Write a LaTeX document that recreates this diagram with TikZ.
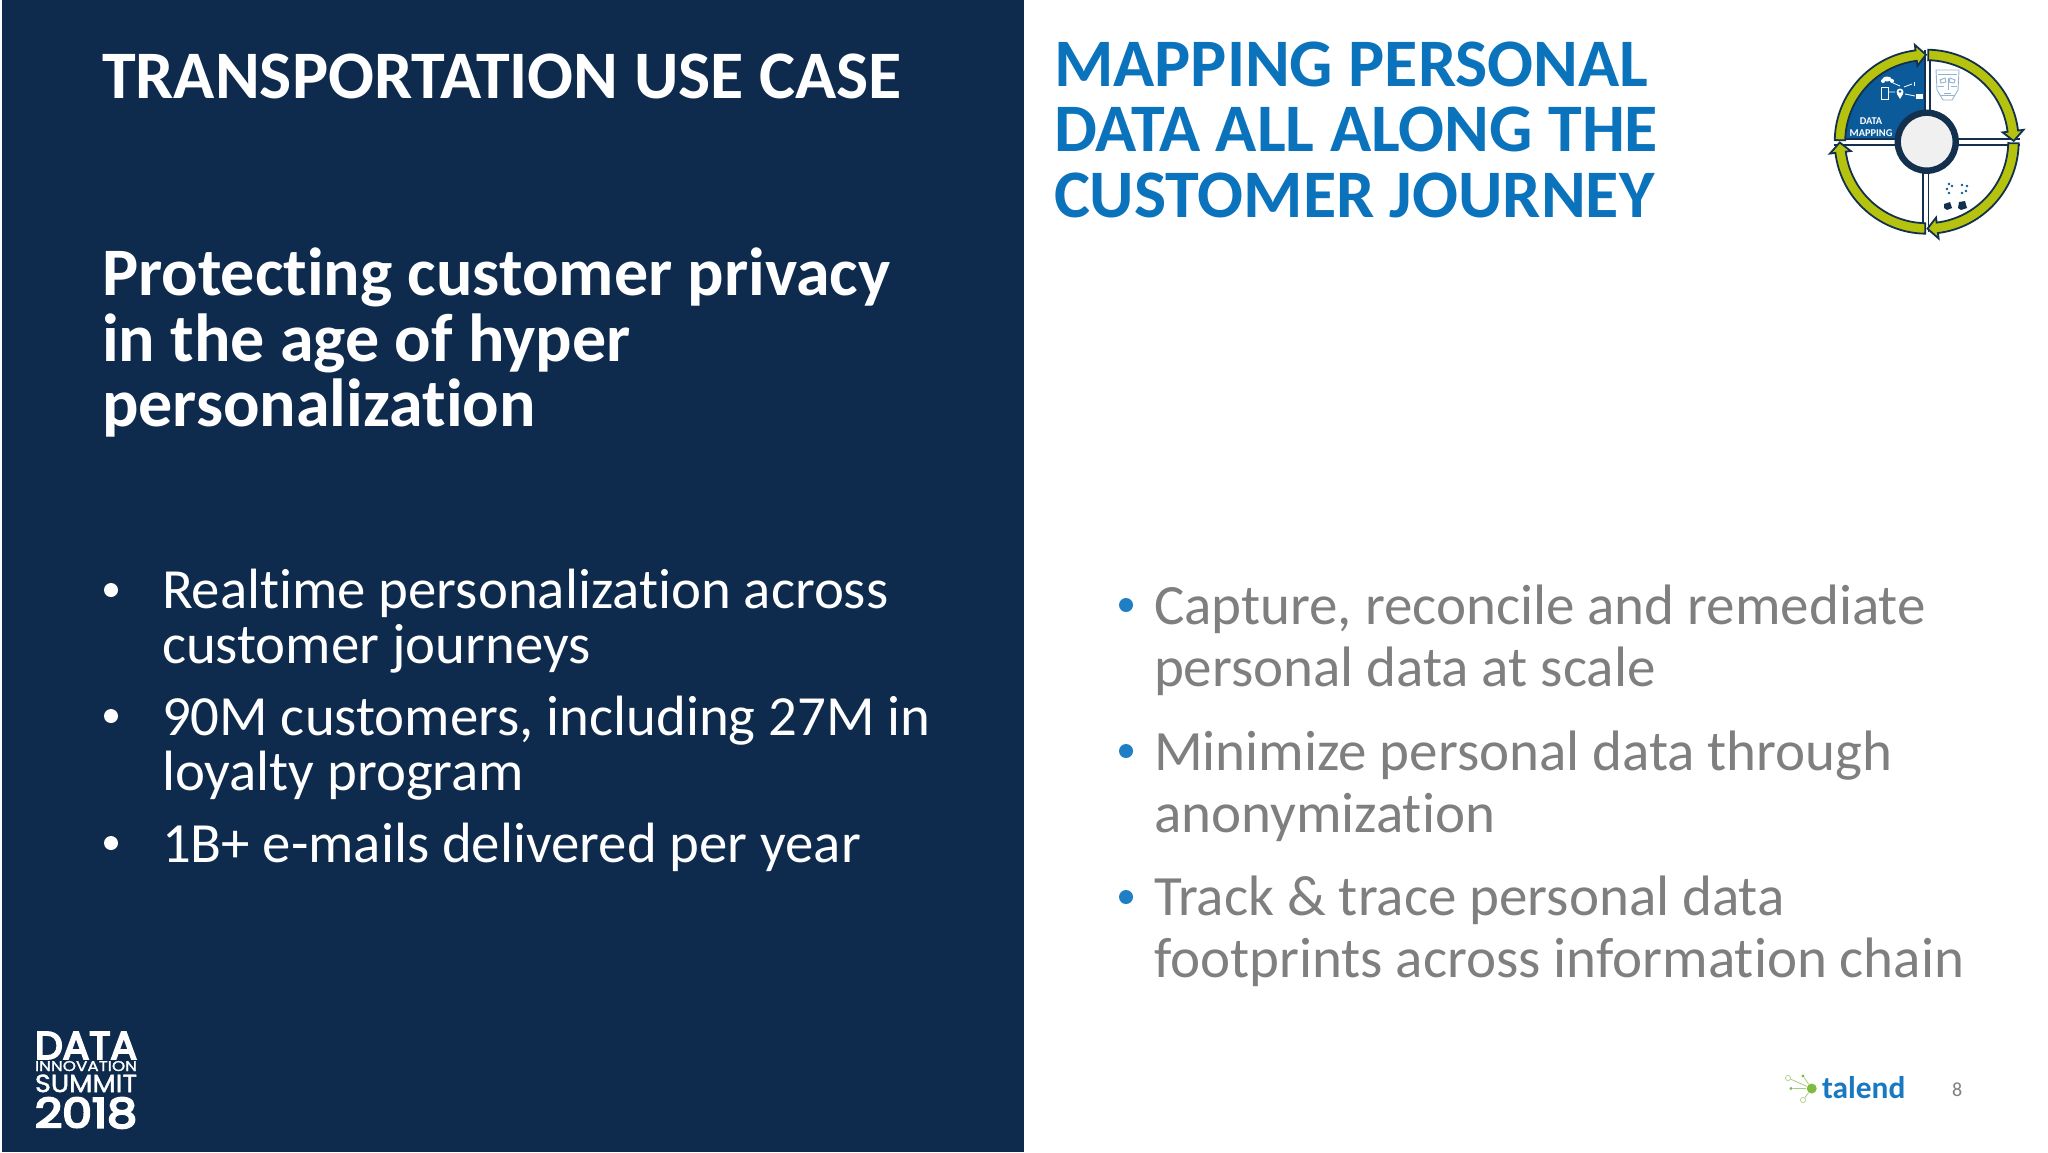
\documentclass[tikz,border=0pt]{standalone}
\usepackage{fontspec}
\setmainfont[Ligatures=CommonOff]{Carlito}
\newfontfamily\popfont[FakeBold=1.5]{Poppins}
\newfontfamily\popmid[FakeBold=5]{Poppins}
\definecolor{navy}{HTML}{0E2B4E}
\definecolor{titleblue}{HTML}{0B72BC}
\definecolor{greytxt}{HTML}{7F7F7F}
\definecolor{bulletblue}{HTML}{1F7FC4}
\definecolor{ringgreen}{HTML}{B5C30E}
\definecolor{ringdark}{HTML}{14304F}
\definecolor{quad}{HTML}{0B5A99}
\definecolor{talendblue}{HTML}{1879C2}
\definecolor{talendgreen}{HTML}{7DBB42}
\tikzset{
  x=0.5pt,y=-0.5pt,
  txt/.style={anchor=base west,inner sep=0pt,outer sep=0pt},
  heada/.style={txt,white,font=\fontsize{34}{40}\selectfont\bfseries},
  headb/.style={txt,titleblue,font=\fontsize{34}{40}\selectfont\bfseries},
  lefttxt/.style={txt,white,font=\fontsize{28.4}{34}\selectfont},
  righttxt/.style={txt,greytxt,font=\fontsize{28.5}{34}\selectfont},
  leftdot/.style={circle,fill=white,inner sep=0pt,minimum size=7pt},
  rightdot/.style={circle,fill=bulletblue,inner sep=0pt,minimum size=7pt},
  logotxt/.style={inner sep=0pt,outer sep=0pt,white,anchor=north west},
  ringarrow/.style={fill=ringgreen,draw=ringdark,line width=0.9pt,line join=miter},
  spoke/.style={talendgreen!70,line width=0.4pt},
  hub/.style={circle,fill=talendgreen,inner sep=0pt,minimum size=5pt},
  leaf/.style={circle,draw=talendgreen!60,fill=white,line width=0.4pt,inner sep=0pt,minimum size=2.6pt},
  leafb/.style={circle,fill=talendgreen,inner sep=0pt,minimum size=1.6pt},
  iconw/.style={white,line width=0.4pt},
  facel/.style={quad!45!white,line width=0.45pt},
}
\newcommand{\ringarc}[1]{%
  \begin{scope}[shift={(1926.7,141.7)},rotate=#1]
    \path[ringarrow,x=0.5pt,y=0.5pt]
      (179:92) arc[start angle=179,end angle=97,radius=92]
      -- (97:97.5) -- (90.5:87) -- (97:76.5) -- (97:81.5)
      arc[start angle=97,end angle=179,radius=81.5] -- cycle;
  \end{scope}}
\begin{document}
\begin{tikzpicture}
\useasboundingbox (0,0) rectangle (2048,1152);
\fill[white] (0,0) rectangle (2048,1152);
\fill[navy] (1.5,0) rectangle (1024,1152);
% left panel
\node[heada] (t1) at (102,98) {TRANSPORTATION USE CASE};
\node[heada] (s1) at (102,295) {Protecting customer privacy};
\node[heada] (s2) at (102,361) {in the age of hyper};
\node[heada] (s3) at (102,426) {personalization};
\node[leftdot] (b1) at (111,590) {};
\node[lefttxt] (l1) at (162,608.5) {Realtime personalization across};
\node[lefttxt] (l2) at (162,663.5) {customer journeys};
\node[leftdot] (b2) at (111,716) {};
\node[lefttxt] (l3) at (162,735.5) {90M customers, including 27M in};
\node[lefttxt] (l4) at (162,790.5) {loyalty program};
\node[leftdot] (b3) at (111,843) {};
\node[lefttxt] (l5) at (162,862.5) {1B+ e-mails delivered per year};
% summit logo
\node[logotxt] (d1) at (35,1032) {\resizebox{51pt}{13.5pt}{\popmid DATA}};
\node[logotxt] (d2) at (35,1061) {\resizebox{51pt}{5pt}{\popfont INNOVATION}};
\node[logotxt] (d3) at (35,1074.5) {\resizebox{51pt}{8.8pt}{\popfont SUMMIT}};
\node[logotxt] (d4) at (35,1097.5) {\resizebox{51pt}{15pt}{\popmid 2018}};
% right panel
\node[headb] (h1) at (1054,86) {MAPPING PERSONAL};
\node[headb] (h2) at (1054,151) {DATA ALL ALONG THE};
\node[headb] (h3) at (1054,217) {CUSTOMER JOURNEY};
\node[rightdot] (c1) at (1126,605) {};
\node[righttxt] (r1) at (1154,624) {Capture, reconcile and remediate};
\node[righttxt] (r2) at (1154,686) {personal data at scale};
\node[rightdot] (c2) at (1126,751) {};
\node[righttxt] (r3) at (1154,770) {Minimize personal data through};
\node[righttxt] (r4) at (1154,832) {anonymization};
\node[rightdot] (c3) at (1126,897) {};
\node[righttxt] (r5) at (1154,915) {Track \& trace personal data};
\node[righttxt] (r6) at (1154,977) {footprints across information chain};
% ring logo: blue quadrant
\fill[quad] (1924,139) -- (1843,139) arc[start angle=180,end angle=90,radius=81,y radius=-81] -- cycle;
% cross lines
\draw[ringdark,line width=0.7pt] (1834,139) -- (1900,139) (1834,145) -- (1900,145);
\draw[ringdark,line width=0.7pt] (1952,139) -- (2020,139) (1952,145) -- (2020,145);
\draw[ringdark,line width=0.7pt] (1925,50) -- (1925,115) (1930,50) -- (1930,115);
\draw[ringdark,line width=0.7pt] (1923,165) -- (1923,232) (1928.5,165) -- (1928.5,232);
\ringarc{0}
\ringarc{-90}
\ringarc{-180}
\ringarc{-270}
\node[circle,draw=ringdark,line width=3.2pt,fill=black!6,inner sep=0pt,minimum size=29pt] (core) at (1926.7,141.7) {};
\node[white,inner sep=0pt,font=\fontsize{5.2}{5.8}\selectfont\bfseries,align=center] (dm) at (1871,127) {DATA\\MAPPING};
% quadrant icons
\fill[white] (1887,79) ellipse (4.5 and 2.5) (1883,81) circle (2) (1892,81) circle (2);
\draw[iconw] (1881,87) rectangle (1888,99);
\fill[white] (1900,92) circle (3.5);
\fill[white] (1897,94) -- (1903,94) -- (1900,99) -- cycle;
\fill[quad] (1900,91.5) circle (1.3);
\draw[iconw] (1916,94) rectangle (1922,98);
\fill[white] (1916.5,94.5) rectangle (1921.5,97.5);
\fill[white] (1914,82) rectangle (1915,86);
\draw[iconw] (1893,83) -- (1900,86) (1904,87) -- (1912,84) (1889,92) -- (1895,92) (1905,94) -- (1915,96);
% face icon (top-right quadrant)
\draw[facel] (1936,70) -- (1959,70) -- (1958,90) -- (1952,100) -- (1943,100) -- (1937,90) -- cycle;
\draw[facel] (1940,80) -- (1945,78) -- (1946,82) -- (1941,83) -- cycle;
\draw[facel] (1955,80) -- (1950,78) -- (1949,82) -- (1954,83) -- cycle;
\draw[facel] (1948,78) -- (1948,90) (1944,93) -- (1951,93) (1938,74) -- (1957,74) (1938,86) -- (1944,86) (1951,86) -- (1957,86) (1940,95) -- (1955,95);
% scatter icon (bottom-right quadrant)
\foreach \xx/\yy in {1949/184,1952/186,1947/189,1949/193,1962/185,1967/186,1966/191,1962/193}{\fill[quad] (\xx,\yy) circle (1.3);}
\fill[ringdark] (1944,204) -- (1950,202) -- (1952,208) -- (1947,210) -- (1944,208) -- cycle;
\fill[ringdark] (1959,202) -- (1965,201) -- (1967,208) -- (1961,210) -- (1958,208) -- cycle;
% talend logo
\node[hub] (hub) at (1811.7,1088.5) {};
\node[leaf] (n1) at (1788,1078) {};
\node[leafb] (n2) at (1803,1076) {};
\node[leafb] (n3) at (1791,1088.5) {};
\node[leaf] (n4) at (1803,1100) {};
\draw[spoke] (hub) -- (n1);
\draw[spoke] (hub) -- (n2);
\draw[spoke] (hub) -- (n3);
\draw[spoke] (hub) -- (n4);
\node[txt,talendblue,font=\fontsize{15.7}{19}\selectfont\bfseries] (talend) at (1822,1098) {talend};
\node[txt,greytxt,font=\fontsize{10}{12}\selectfont] (pg) at (1952,1096) {8};
\end{tikzpicture}
\end{document}
